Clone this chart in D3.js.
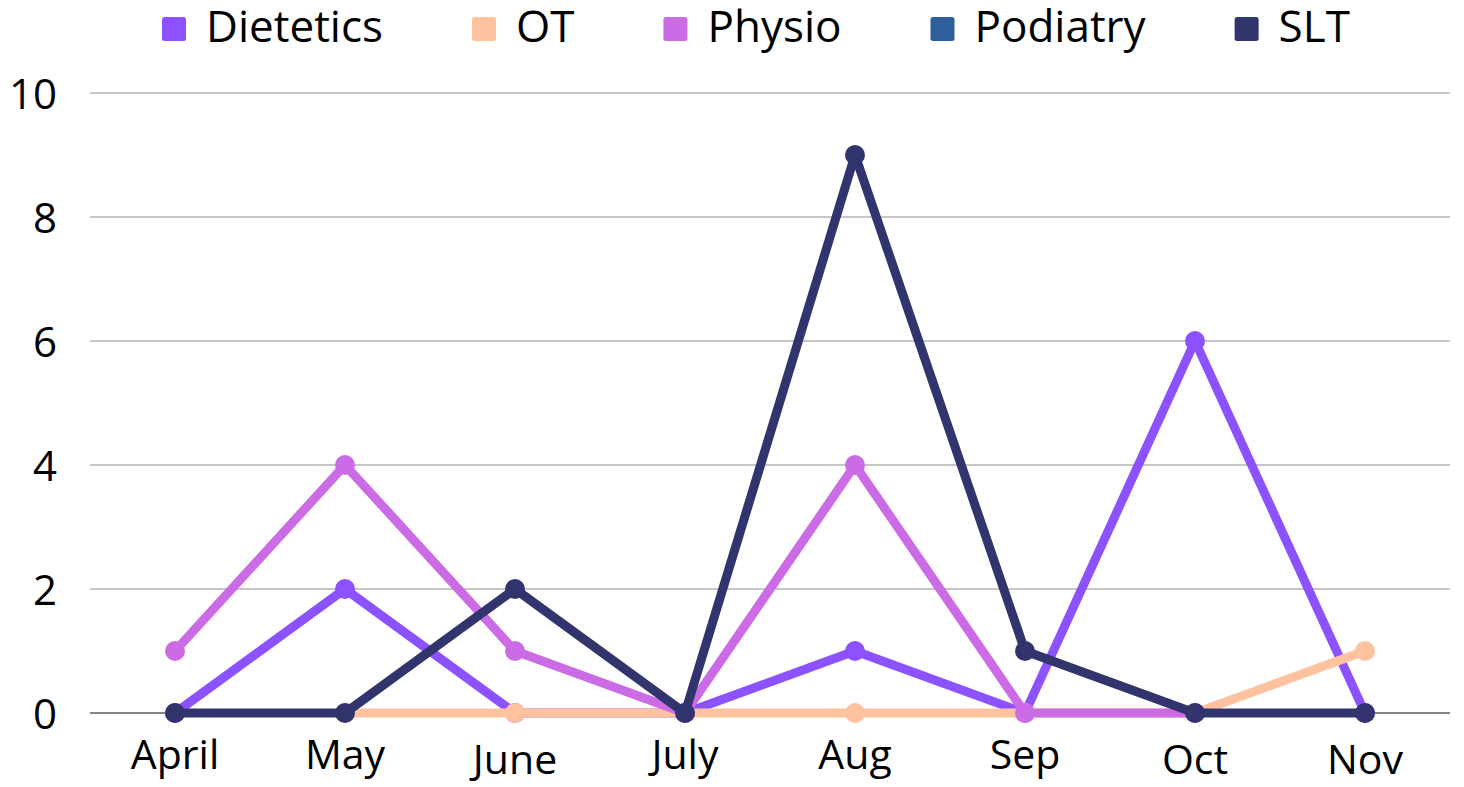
<!DOCTYPE html>
<html>
<head>
<meta charset="utf-8">
<script src="https://cdn.jsdelivr.net/npm/d3@7/dist/d3.min.js"></script>
<style>
  html, body { margin: 0; padding: 0; background: #ffffff; }
  svg { display: block; }
</style>
</head>
<body>
<svg id="chart" width="1464" height="787"></svg>
<script>
const months = ["April", "May", "June", "July", "Aug", "Sep", "Oct", "Nov"];
const seriesNames = ["Dietetics", "OT", "Physio", "Podiatry", "SLT"];
const dietetics = [0, 2, 0, 0, 1, 0, 6, 0];
const ot        = [null, 0, 0, 0, 0, 0, 0, 1];
const physio    = [1, 4, 1, 0, 4, 0, 0, null];
const podiatry  = [null, null, null, null, null, null, null, null];
const slt       = [0, 0, 2, 0, 9, 1, 0, 0];
const yTicks = [0, 2, 4, 6, 8, 10];
const colors = ["#8c52ff", "#ffc29f", "#cb6ce6", "#2e5f9b", "#31346d"];

const seriesValues = [dietetics, ot, physio, podiatry, slt];

const svg = d3.select("#chart");
const plotLeft = 90, plotRight = 1450, plotTop = 93, plotBottom = 713;

const x = d3.scaleBand().domain(months).range([plotLeft, plotRight]);
const y = d3.scaleLinear().domain([0, 10]).range([plotBottom, plotTop]);
const cx = m => x(m) + x.bandwidth() / 2;

const font = "'Open Sans', 'Noto Sans', sans-serif";

// gridlines
svg.append("g")
  .selectAll("line")
  .data(yTicks.filter(t => t !== 0))
  .join("line")
  .attr("x1", plotLeft).attr("x2", plotRight)
  .attr("y1", d => y(d)).attr("y2", d => y(d))
  .attr("stroke", "#c6c6c6").attr("stroke-width", 2);

// zero axis line
svg.append("line")
  .attr("x1", plotLeft).attr("x2", plotRight)
  .attr("y1", y(0)).attr("y2", y(0))
  .attr("stroke", "#858585").attr("stroke-width", 2);

// y tick labels
svg.append("g")
  .selectAll("text")
  .data(yTicks)
  .join("text")
  .attr("x", 57)
  .attr("y", d => y(d) + 15.5)
  .attr("text-anchor", "end")
  .attr("font-family", font)
  .attr("font-size", 42)
  .attr("fill", "#000")
  .text(d => d);

// x labels (ink vertically centred: words without descenders sit lower)
svg.append("g")
  .selectAll("text")
  .data(months)
  .join("text")
  .attr("x", d => cx(d))
  .attr("y", d => /[gjpqy]/.test(d) ? 769 : 774)
  .attr("text-anchor", "middle")
  .attr("font-family", font)
  .attr("font-size", 41)
  .attr("fill", "#000")
  .text(d => d);

// series
const line = d3.line()
  .defined(d => d.v !== null)
  .x(d => cx(d.m))
  .y(d => y(d.v));

seriesNames.forEach((name, i) => {
  const data = months.map((m, j) => ({ m, v: seriesValues[i][j] }));
  const g = svg.append("g");
  g.append("path")
    .datum(data)
    .attr("d", line)
    .attr("fill", "none")
    .attr("stroke", colors[i])
    .attr("stroke-width", 9)
    .attr("stroke-linejoin", "round")
    .attr("stroke-linecap", "round");
  g.selectAll("circle")
    .data(data.filter(d => d.v !== null))
    .join("circle")
    .attr("cx", d => cx(d.m))
    .attr("cy", d => y(d.v))
    .attr("r", 10)
    .attr("fill", colors[i]);
});

// legend
const legend = svg.append("g");
let lx = 162;
seriesNames.forEach((name, i) => {
  legend.append("rect")
    .attr("x", lx).attr("y", 17)
    .attr("width", 24).attr("height", 24)
    .attr("rx", 2.5)
    .attr("fill", colors[i]);
  const tx = lx + 44;
  const t = legend.append("text")
    .attr("x", tx).attr("y", 42)
    .attr("font-family", font)
    .attr("font-size", 44)
    .attr("fill", "#000")
    .text(name);
  const w = t.node().getComputedTextLength();
  lx = tx + w + 89;
});
</script>
</body>
</html>
